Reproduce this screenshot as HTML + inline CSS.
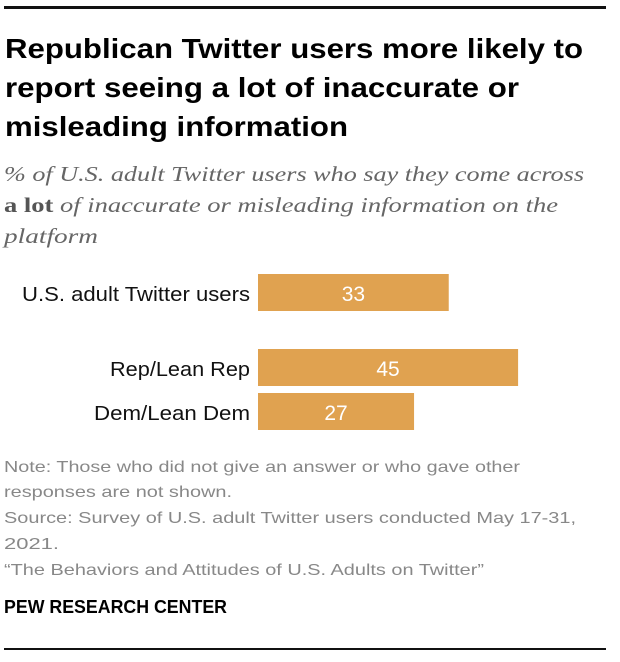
<!DOCTYPE html>
<html><head><meta charset="utf-8"><style>
html,body{margin:0;padding:0;background:#fff;}
svg{display:block;}
</style></head><body>
<svg id="chart" width="620" height="662" viewBox="0 0 620 662" xmlns="http://www.w3.org/2000/svg">
<rect x="4" y="6" width="602" height="3" fill="#111"/>
<g font-family="Liberation Sans, sans-serif" font-weight="bold" font-size="28" fill="#000">
<text x="5" y="58" textLength="578" lengthAdjust="spacingAndGlyphs">Republican Twitter users more likely to</text>
<text x="5" y="97" textLength="514" lengthAdjust="spacingAndGlyphs">report seeing a lot of inaccurate or</text>
<text x="5" y="136" textLength="343" lengthAdjust="spacingAndGlyphs">misleading information</text>
</g>
<g font-family="Liberation Serif, serif" font-style="italic" font-size="21" fill="#666">
<text x="4" y="181" textLength="580" lengthAdjust="spacingAndGlyphs">% of U.S. adult Twitter users who say they come across</text>
<text x="4" y="212" textLength="554" lengthAdjust="spacingAndGlyphs"><tspan font-weight="bold" font-style="normal" fill="#555">a lot</tspan> of inaccurate or misleading information on the</text>
<text x="4" y="243" textLength="94" lengthAdjust="spacingAndGlyphs">platform</text>
</g>
<g id="bars"></g>
<g font-family="Liberation Sans, sans-serif" font-size="16" fill="#888">
<text x="4" y="472" textLength="516" lengthAdjust="spacingAndGlyphs">Note: Those who did not give an answer or who gave other</text>
<text x="4" y="497" textLength="228" lengthAdjust="spacingAndGlyphs">responses are not shown.</text>
<text x="4" y="523" textLength="572" lengthAdjust="spacingAndGlyphs">Source: Survey of U.S. adult Twitter users conducted May 17-31,</text>
<text x="4" y="549" textLength="55" lengthAdjust="spacingAndGlyphs">2021.</text>
<text x="4" y="575" textLength="480" lengthAdjust="spacingAndGlyphs">“The Behaviors and Attitudes of U.S. Adults on Twitter”</text>
</g>
<text x="4" y="613" font-family="Liberation Sans, sans-serif" font-weight="bold" font-size="18" fill="#000" textLength="223" lengthAdjust="spacingAndGlyphs">PEW RESEARCH CENTER</text>
<rect x="4" y="648" width="602" height="2" fill="#111"/>
</svg>
<script>
const categories = ["U.S. adult Twitter users", "Rep/Lean Rep", "Dem/Lean Dem"];
const values = [33, 45, 27];
const valueLabels = ["33", "45", "27"];
const x0 = 258, pxPerUnit = 5.78;
function xScale(v){ return x0 + v * pxPerUnit; }
const rowTops = [274, 349, 393];
const labelWidths = [228, 140, 156];
const barH = 37;
const g = document.getElementById('bars');
const NS = 'http://www.w3.org/2000/svg';
categories.forEach((c, i) => {
  const y = rowTops[i];
  const r = document.createElementNS(NS, 'rect');
  r.setAttribute('x', x0);
  r.setAttribute('y', y);
  r.setAttribute('width', xScale(values[i]) - x0);
  r.setAttribute('height', barH);
  r.setAttribute('fill', '#e0a250');
  
  
  g.appendChild(r);
  const t = document.createElementNS(NS, 'text');
  t.setAttribute('x', (x0 + xScale(values[i])) / 2);
  t.setAttribute('y', y + 27);
  t.setAttribute('text-anchor', 'middle');
  t.setAttribute('font-family', 'Liberation Sans, sans-serif');
  t.setAttribute('font-size', '21');
  t.setAttribute('fill', '#fff');
  t.textContent = valueLabels[i];
  
  
  g.appendChild(t);
  const l = document.createElementNS(NS, 'text');
  l.setAttribute('x', 250);
  l.setAttribute('y', y + 27);
  l.setAttribute('text-anchor', 'end');
  l.setAttribute('font-family', 'Liberation Sans, sans-serif');
  l.setAttribute('font-size', '20.5');
  l.setAttribute('fill', '#111');
  l.setAttribute('textLength', labelWidths[i]);
  l.setAttribute('lengthAdjust', 'spacingAndGlyphs');
  l.textContent = c;
  
  
  g.appendChild(l);
});
</script>
</body></html>
